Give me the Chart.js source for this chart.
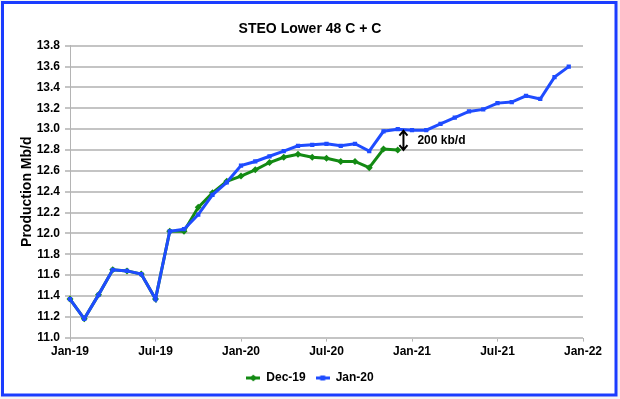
<!DOCTYPE html>
<html>
<head>
<meta charset="utf-8">
<script src="https://cdn.jsdelivr.net/npm/chart.js@4/dist/chart.umd.min.js"></script>
<style>
  body { margin: 0; background: #fff; }
  #wrap { width: 620px; height: 399px; }
</style>
</head>
<body>
<div id="wrap"><canvas id="steo" width="620" height="399"></canvas></div>
<script>
// months Jan-19 .. Jan-22
var months = ['Jan-19','Feb-19','Mar-19','Apr-19','May-19','Jun-19','Jul-19','Aug-19','Sep-19','Oct-19','Nov-19','Dec-19',
              'Jan-20','Feb-20','Mar-20','Apr-20','May-20','Jun-20','Jul-20','Aug-20','Sep-20','Oct-20','Nov-20','Dec-20',
              'Jan-21','Feb-21','Mar-21','Apr-21','May-21','Jun-21','Jul-21','Aug-21','Sep-21','Oct-21','Nov-21','Dec-21',
              'Jan-22'];
var tickMonths = ['Jan-19','Jul-19','Jan-20','Jul-20','Jan-21','Jul-21','Jan-22'];

// STEO Dec-19
var dec19 = [11.37, 11.18, 11.41, 11.65, 11.64, 11.61, 11.37, 12.02, 12.02, 12.25, 12.39, 12.50,
             12.55, 12.61, 12.68, 12.73, 12.76, 12.73, 12.72, 12.69, 12.69, 12.63, 12.81, 12.80];
// STEO Jan-20
var jan20 = [11.37, 11.18, 11.41, 11.65, 11.64, 11.61, 11.37, 12.02, 12.04, 12.18, 12.37, 12.49,
             12.65, 12.69, 12.74, 12.79, 12.84, 12.85, 12.86, 12.84, 12.86, 12.79, 12.98, 13.00,
             12.99, 12.99, 13.05, 13.11, 13.17, 13.19, 13.25, 13.26, 13.32, 13.29, 13.50, 13.60];

// gap annotation: month index, top value, bottom value
var gapAt = 23.4;
var gapTop = 12.985;
var gapBottom = 12.80;
var gapText = '200 kb/d';

var green = '#138a13';
var blue = '#1f4cff';

function legendMark(color, style) {
    var c = document.createElement('canvas');
    c.width = 14; c.height = 8;
    var g = c.getContext('2d');
    g.strokeStyle = color; g.fillStyle = color; g.lineWidth = 3;
    g.beginPath(); g.moveTo(0, 4); g.lineTo(14, 4); g.stroke();
    g.beginPath();
    if (style == 'diamond') {
        g.moveTo(7, 0.5); g.lineTo(10.5, 4); g.lineTo(7, 7.5); g.lineTo(3.5, 4);
    } else {
        g.rect(4.5, 1.5, 5, 5);
    }
    g.fill();
    return c;
}

var framePlugin = {
    id: 'frame',
    beforeDraw: function (chart) {
        var ctx = chart.ctx;
        ctx.save();
        ctx.fillStyle = '#f4f4f4';
        ctx.fillRect(0, 0, chart.width, chart.height);
        ctx.fillStyle = '#ffffff';
        ctx.fillRect(2, 2, 614, 393);
        ctx.restore();
    },
    afterDraw: function (chart) {
        var ctx = chart.ctx;
        ctx.save();
        ctx.strokeStyle = '#1a3cff';
        ctx.lineWidth = 3;
        ctx.strokeRect(2.5, 2.5, 613.5, 392.5);
        ctx.restore();
    }
};

var gapPlugin = {
    id: 'gap',
    afterDatasetsDraw: function (chart) {
        var xs = chart.scales.x, ys = chart.scales.y;
        var x0 = xs.getPixelForValue(Math.floor(gapAt));
        var x1 = xs.getPixelForValue(Math.floor(gapAt) + 1);
        var x = x0 + (x1 - x0) * (gapAt - Math.floor(gapAt));
        var yt = ys.getPixelForValue(gapTop);
        var yb = ys.getPixelForValue(gapBottom);
        var ctx = chart.ctx;
        ctx.save();
        ctx.strokeStyle = '#000';
        ctx.lineWidth = 2;
        ctx.beginPath();
        ctx.moveTo(x, yt); ctx.lineTo(x, yb);
        ctx.moveTo(x - 4, yt + 5); ctx.lineTo(x, yt); ctx.lineTo(x + 4, yt + 5);
        ctx.moveTo(x - 4, yb - 5); ctx.lineTo(x, yb); ctx.lineTo(x + 4, yb - 5);
        ctx.stroke();
        ctx.fillStyle = '#000';
        ctx.font = 'bold 12px "Liberation Sans", Arial, sans-serif';
        ctx.textBaseline = 'middle';
        ctx.fillText(gapText, x + 14, (yt + yb) / 2);
        ctx.restore();
    }
};

var ctx = document.getElementById('steo');
var chart = new Chart(ctx, {
    type: 'line',
    data: {
        labels: months,
        datasets: [
            {
                label: 'Dec-19',
                data: dec19,
                borderColor: green,
                backgroundColor: green,
                borderWidth: 3,
                pointStyle: 'rectRot',
                pointRadius: 3.5,
                pointBorderWidth: 0,
                tension: 0,
                order: 2
            },
            {
                label: 'Jan-20',
                data: jan20,
                borderColor: blue,
                backgroundColor: blue,
                borderWidth: 3,
                pointStyle: 'rect',
                pointRadius: 3,
                pointBorderWidth: 0,
                tension: 0,
                order: 1
            }
        ]
    },
    options: {
        responsive: false,
        animation: false,
        events: [],
        layout: { padding: { left: 0, right: 0, top: 0, bottom: 5 } },
        plugins: {
            title: {
                display: true,
                text: 'STEO Lower 48 C + C',
                color: '#000',
                font: { family: '"Liberation Sans", Arial, sans-serif', size: 14, weight: 'bold' },
                padding: { top: 21, bottom: 8 }
            },
            legend: {
                position: 'bottom',
                labels: {
                    color: '#000',
                    font: { family: '"Liberation Sans", Arial, sans-serif', size: 12, weight: 'bold' },
                    usePointStyle: true,
                    pointStyleWidth: 14,
                    boxHeight: 8,
                    padding: 10,
                    generateLabels: function (chart) {
                        return chart.data.datasets.map(function (ds, i) {
                            return {
                                text: ds.label,
                                fontColor: '#000',
                                pointStyle: legendMark(ds.borderColor, i == 0 ? 'diamond' : 'square'),
                                datasetIndex: i,
                                lineWidth: 0,
                                strokeStyle: ds.borderColor,
                                fillStyle: ds.borderColor
                            };
                        });
                    }
                }
            },
            tooltip: { enabled: false }
        },
        scales: {
            x: {
                offset: false,
                grid: { display: true, drawOnChartArea: false, drawTicks: true, tickLength: 4, color: '#b4b4b4', lineWidth: 1 },
                border: { display: false },
                ticks: {
                    autoSkip: false,
                    maxRotation: 0,
                    padding: 3,
                    color: '#000',
                    font: { family: '"Liberation Sans", Arial, sans-serif', size: 12, weight: 'bold' },
                    callback: function (value, index) {
                        var m = months[index];
                        return tickMonths.indexOf(m) >= 0 ? m : null;
                    }
                }
            },
            y: {
                min: 11.0,
                max: 13.8,
                afterFit: function (scale) { scale.width = 70; },
                grid: { color: '#c4c4c4', lineWidth: 2, tickLength: 5, drawTicks: true },
                border: { display: true, color: '#b4b4b4', width: 1 },
                ticks: {
                    stepSize: 0.2,
                    padding: 5,
                    color: '#000',
                    font: { family: '"Liberation Sans", Arial, sans-serif', size: 12, weight: 'bold' },
                    callback: function (v) { return v.toFixed(1); }
                },
                title: {
                    display: true,
                    text: 'Production Mb/d',
                    color: '#000',
                    font: { family: '"Liberation Sans", Arial, sans-serif', size: 14, weight: 'bold' },
                    padding: { top: 19, bottom: 0 }
                }
            },
            // empty right-hand spacer so the plot ends where the reference does
            spacer: {
                type: 'linear',
                position: 'right',
                display: true,
                afterFit: function (scale) { scale.width = 37; },
                grid: { display: false },
                border: { display: false },
                ticks: { display: false }
            }
        }
    },
    plugins: [framePlugin, gapPlugin]
});
</script>
</body>
</html>
